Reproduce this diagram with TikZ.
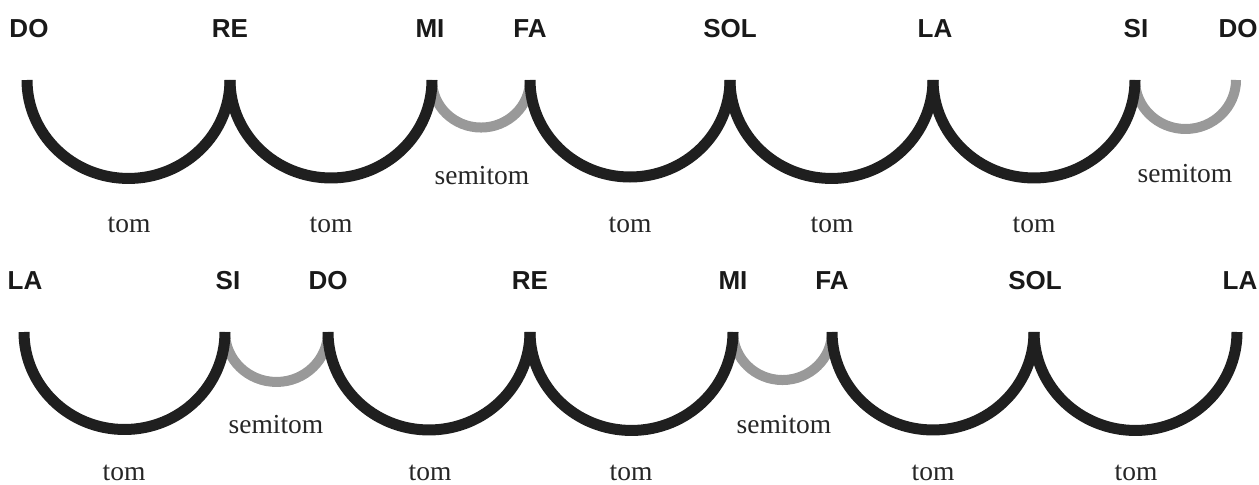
\documentclass[tikz,border=0pt]{standalone}
\usepackage{fontspec}
\setmainfont{Liberation Serif}
\newfontfamily\labfont{Liberation Sans}
\usetikzlibrary{calc}
\tikzset{
  note/.style={font=\labfont\bfseries\fontsize{19.5}{20}\selectfont, anchor=base, inner sep=0pt, text=black!90},
  steptext/.style={font=\fontsize{20.6}{22}\selectfont, anchor=base, inner sep=0pt, text depth=0pt, text=black!85},
  tone/.style={line width=8.25pt, draw=black!88},
  semi/.style={line width=7.5pt, draw=black!40},
}
\newcommand\swing[3]{\draw[#1] let \p1=(#2), \p2=(#3) in (#2) arc[start angle=180, end angle=360, x radius={(\x2-\x1)/2}, y radius={0.97*(\x2-\x1)/2}];}
\begin{document}
\begin{tikzpicture}[x=0.75pt,y=-0.75pt]
\useasboundingbox (0,0) rectangle (1259,485);
% row 1 endpoints
\coordinate (a1) at (27,80);
\coordinate (a2) at (230,80);
\coordinate (a3) at (432,80);
\coordinate (a4) at (530,80);
\coordinate (a5) at (730,80);
\coordinate (a6) at (933,80);
\coordinate (a7) at (1135,80);
\coordinate (a8) at (1236,80);
% row 2 endpoints
\coordinate (b1) at (24,332);
\coordinate (b2) at (225,332);
\coordinate (b3) at (328,332);
\coordinate (b4) at (530,332);
\coordinate (b5) at (733,332);
\coordinate (b6) at (832,332);
\coordinate (b7) at (1034,332);
\coordinate (b8) at (1237,332);
% semitone arcs (under)
\swing{semi}{a3}{a4}
\swing{semi}{a7}{a8}
\swing{semi}{b2}{b3}
\swing{semi}{b5}{b6}
% tone arcs
\swing{tone}{a1}{a2}
\swing{tone}{a2}{a3}
\swing{tone}{a4}{a5}
\swing{tone}{a5}{a6}
\swing{tone}{a6}{a7}
\swing{tone}{b1}{b2}
\swing{tone}{b3}{b4}
\swing{tone}{b4}{b5}
\swing{tone}{b6}{b7}
\swing{tone}{b7}{b8}
% row 1 labels
\node[note] (l1) at (29,38) {DO};
\node[note] (l2) at (230,38) {RE};
\node[note] (l3) at (430,38) {MI};
\node[note] (l4) at (530,38) {FA};
\node[note] (l5) at (730,38) {SOL};
\node[note] (l6) at (935,38) {LA};
\node[note] (l7) at (1136,38) {SI};
\node[note] (l8) at (1238,38) {DO};
% row 2 labels
\node[note] (m1) at (25,289) {LA};
\node[note] (m2) at (228,289) {SI};
\node[note] (m3) at (328,289) {DO};
\node[note] (m4) at (530,289) {RE};
\node[note] (m5) at (733,289) {MI};
\node[note] (m6) at (832,289) {FA};
\node[note] (m7) at (1035,289) {SOL};
\node[note] (m8) at (1240,289) {LA};
% row 1 interval texts
\node[steptext] (t1) at (129,232) {tom};
\node[steptext] (t2) at (331,232) {tom};
\node[steptext] (s1) at (482,184) {semitom};
\node[steptext] (t3) at (630,232) {tom};
\node[steptext] (t4) at (832,232) {tom};
\node[steptext] (t5) at (1034,232) {tom};
\node[steptext] (s2) at (1185,182) {semitom};
% row 2 interval texts
\node[steptext] (u1) at (124,480) {tom};
\node[steptext] (v1) at (276,433) {semitom};
\node[steptext] (u2) at (430,480) {tom};
\node[steptext] (u3) at (631,480) {tom};
\node[steptext] (v2) at (784,433) {semitom};
\node[steptext] (u4) at (933,480) {tom};
\node[steptext] (u5) at (1136,480) {tom};
\end{tikzpicture}
\end{document}
